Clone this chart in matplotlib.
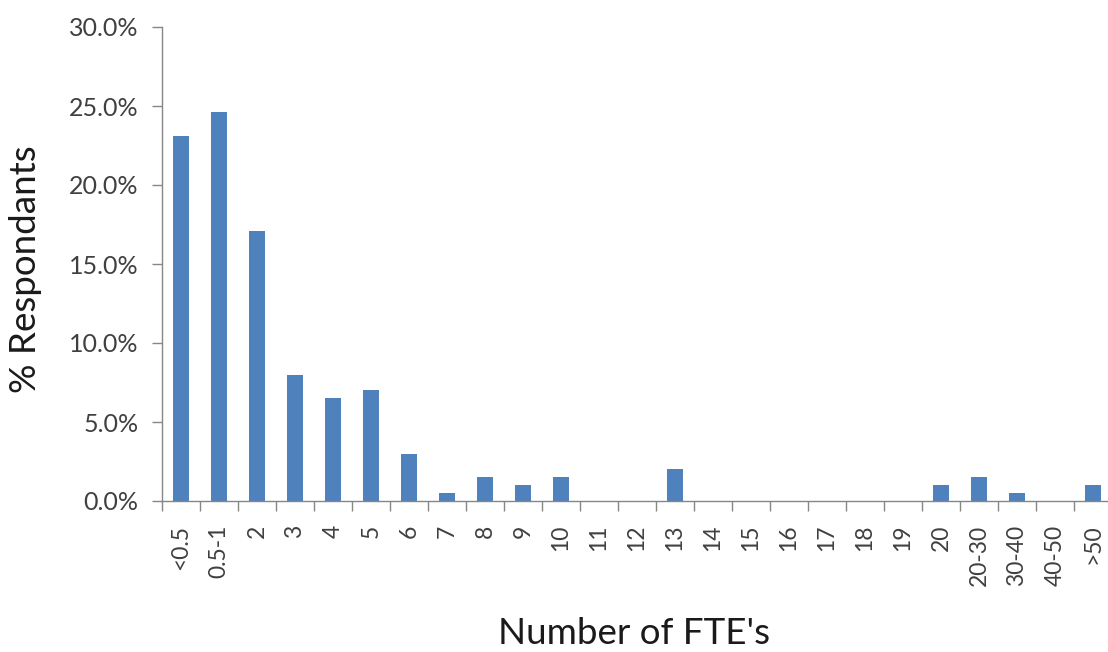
import numpy as np
import matplotlib
matplotlib.use("Agg")
import matplotlib.pyplot as plt
from matplotlib.ticker import FuncFormatter, MultipleLocator

# data
categories = ["<0.5", "0.5-1", "2", "3", "4", "5", "6", "7", "8", "9", "10",
              "11", "12", "13", "14", "15", "16", "17", "18", "19", "20",
              "20-30", "30-40", "40-50", ">50"]
pct_respondents = [23.1, 24.6, 17.1, 8.0, 6.5, 7.0, 3.0, 0.5, 1.5, 1.0, 1.5,
                   0.0, 0.0, 2.0, 0.0, 0.0, 0.0, 0.0, 0.0, 0.0, 1.0,
                   1.5, 0.5, 0.0, 1.0]

plt.rcParams['font.family'] = ['Lato', 'DejaVu Sans']

fig = plt.figure(figsize=(11.08, 6.52), dpi=100)
W, H = 1108, 652
# axes box in pixels: left 162, right 1112, top 27, bottom 501
ax = fig.add_axes([162 / W, (H - 501) / H, 950 / W, (501 - 27) / H])

x = np.arange(len(categories))
ax.bar(x, pct_respondents, width=0.42, color="#4F81BD")

ax.set_xlim(-0.5, len(categories) - 0.5)
ax.set_ylim(0, 30)

spine_col = "#868686"
for s in ["top", "right"]:
    ax.spines[s].set_visible(False)
for s in ["left", "bottom"]:
    ax.spines[s].set_color(spine_col)
    ax.spines[s].set_linewidth(1.0)

# y axis
ax.yaxis.set_major_locator(MultipleLocator(5))
ax.yaxis.set_major_formatter(FuncFormatter(lambda v, p: "%.1f%%" % v))
ax.tick_params(axis="y", direction="out", length=7, width=1, color=spine_col,
               labelsize=18, labelcolor="#404040", pad=10)

# x axis: labels at centres, tick marks at category boundaries
ax.set_xticks(x)
ax.set_xticklabels(categories, rotation=90, va="top", ha="center")
ax.tick_params(axis="x", which="major", length=0, labelsize=16.5,
               labelcolor="#404040", pad=17)
ax.set_xticks(np.arange(-0.5, len(categories), 1.0), minor=True)
ax.tick_params(axis="x", which="minor", direction="out", length=7, width=1,
               color=spine_col)

ax.set_ylabel("% Respondants", fontsize=26.5, color="#1a1a1a")
ax.yaxis.set_label_coords(-0.126, 0.49)
ax.set_xlabel("Number of FTE's", fontsize=26.5, color="#1a1a1a")
ax.xaxis.set_label_coords(0.497, -0.245)

fig.savefig("out.png", dpi=100)
